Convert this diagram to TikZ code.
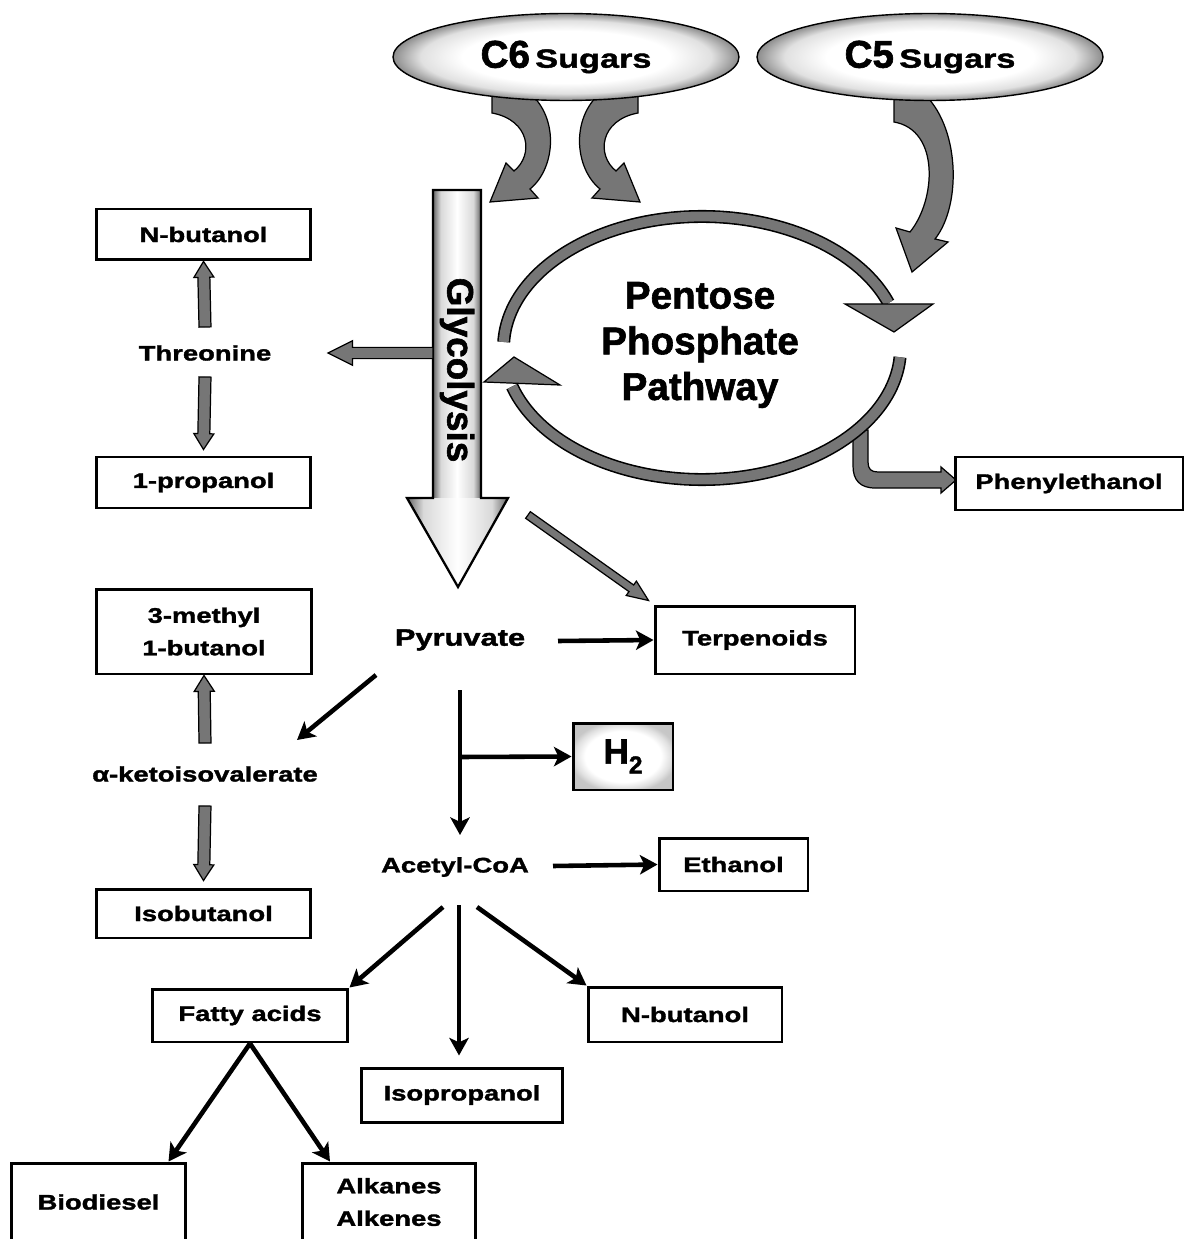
\documentclass[tikz,border=0pt]{standalone}
\usepackage{fontspec}
\setmainfont{Liberation Sans}
\newfontfamily\wfont[FakeStretch=1.3,FakeBold=1.6]{Liberation Sans}
\newfontfamily\hfont[FakeBold=1.6]{Liberation Sans}
\usetikzlibrary{arrows.meta,calc,shapes.geometric}
\definecolor{arrowgray}{RGB}{118,118,118}
\pgfdeclareradialshading{ellshade}{\pgfpoint{0bp}{0bp}}{color(0bp)=(white); color(15bp)=(white); color(21bp)=(black!12); color(25bp)=(black!45); color(50bp)=(black!45)}
\pgfdeclareradialshading{hshade}{\pgfpoint{0bp}{0bp}}{color(0bp)=(white); color(19bp)=(white); color(24bp)=(black!12); color(27bp)=(black!22); color(50bp)=(black!25)}
\pgfdeclarehorizontalshading{glyshade}{100bp}{color(0bp)=(black!60); color(25bp)=(black!60); color(33bp)=(black!15); color(50bp)=(white); color(67bp)=(black!15); color(75bp)=(black!60); color(100bp)=(black!60)}
\newcommand\blockarrow[5]{%
  \filldraw[garrow] let \p1=(#1), \p2=(#2),
    \n1={veclen(\x2-\x1,\y2-\y1)}, \n2={(\x2-\x1)/\n1}, \n3={(\y2-\y1)/\n1} in
    ({\x1-(\n3)*#3},{\y1+(\n2)*#3}) --
    ({\x2-(\n2)*#5-(\n3)*#3},{\y2-(\n3)*#5+(\n2)*#3}) --
    ({\x2-(\n2)*#5-(\n3)*#4},{\y2-(\n3)*#5+(\n2)*#4}) --
    (\p2) --
    ({\x2-(\n2)*#5+(\n3)*#4},{\y2-(\n3)*#5-(\n2)*#4}) --
    ({\x2-(\n2)*#5+(\n3)*#3},{\y2-(\n3)*#5-(\n2)*#3}) --
    ({\x1+(\n3)*#3},{\y1-(\n2)*#3}) -- cycle;}
\begin{document}
\begin{tikzpicture}[x=0.02cm,y=-0.02cm,
  box/.style={draw, line width=1.7pt, fill=white, inner sep=0pt, align=center, font=\wfont\bfseries\fontsize{12}{18.5}\selectfont},
  lbl/.style={inner sep=0pt, font=\wfont\bfseries\fontsize{12}{14}\selectfont},
  blk/.style={line width=2.6pt, -{Stealth[length=10pt,width=11pt,inset=2.5pt]}},
  garrow/.style={fill=arrowgray, draw=black, line width=0.7pt, line join=miter},
  band/.style={line width=7.4pt, draw=black},
  bandin/.style={line width=5.6pt, draw=arrowgray},
  ghead/.style={fill=arrowgray, draw=black, line width=0.7pt, line join=miter}]
\useasboundingbox (0,0) rectangle (1186,1239);
\clip (0,0) rectangle (1186,1239);

% curved arrows from the sugars
\filldraw[garrow] (492,90) -- (526,90) .. controls (560,115) and (556,168) .. (530,189) -- (538,198) -- (490,202) -- (506,163) -- (514,171) .. controls (534,155) and (530,120) .. (492,113) -- cycle;
\filldraw[garrow] (638,90) -- (604,90) .. controls (570,115) and (574,168) .. (600,189) -- (592,198) -- (640,202) -- (624,163) -- (616,171) .. controls (596,155) and (600,120) .. (638,113) -- cycle;
\filldraw[garrow] (894,92) -- (922,92) .. controls (960,125) and (962,205) .. (935,239) -- (948,242) -- (912,272) -- (896,228) -- (910,232) .. controls (936,200) and (940,130) .. (894,122) -- cycle;

% sugars
\node[ellipse, draw, line width=0.8pt, shade, shading=ellshade, minimum width=6.92cm, minimum height=1.74cm, inner sep=0pt] (c6) at (566,57)
  {{\hfont\bfseries\fontsize{22}{24}\selectfont C6}\hspace{3pt}{\wfont\bfseries\fontsize{15}{18}\selectfont Sugars}};
\node[ellipse, draw, line width=0.8pt, shade, shading=ellshade, minimum width=6.92cm, minimum height=1.74cm, inner sep=0pt] (c5) at (930,57)
  {{\hfont\bfseries\fontsize{22}{24}\selectfont C5}\hspace{3pt}{\wfont\bfseries\fontsize{15}{18}\selectfont Sugars}};

% glycolysis arrow
\shade[shading=glyshade] (433,190) rectangle (481,498);
\shade[shading=glyshade] (407,498) -- (508,498) -- (458,587) -- cycle;
\draw[line width=1.3pt, line join=miter] (433,190) -- (481,190) -- (481,498) -- (508,498) -- (458,587) -- (407,498) -- (433,498) -- cycle;
\node[rotate=-90, inner sep=0pt, font=\hfont\bfseries\fontsize{21}{24}\selectfont] (glyc) at (457,370) {Glycolysis};
\coordinate (glyL) at (433,353);
\coordinate (glyR) at (528,515);

% phenylethanol bent arrow
\filldraw[garrow] (853,430) -- (853,466) .. controls (853,480) and (860,488) .. (875,488) -- (941,488) -- (941,493) -- (956,480) -- (941,467) -- (941,472) -- (878,472) .. controls (871,472) and (868,469) .. (868,462) -- (868,430) -- cycle;

% pentose phosphate cycle
\draw[band] (503.7,342) arc[start angle=182.6, end angle=340, x radius=198.5, y radius=131.5];
\draw[bandin] (503.7,342) arc[start angle=182.6, end angle=340, x radius=198.5, y radius=131.5];
\draw[band] (900,357.2) arc[start angle=4, end angle=163, x radius=198.5, y radius=131.5];
\draw[bandin] (900,357.2) arc[start angle=4, end angle=163, x radius=198.5, y radius=131.5];
\filldraw[ghead] (845,304) -- (933,304) -- (894,332) -- cycle;
\filldraw[ghead] (484,382) -- (560,385) -- (514,357) -- cycle;
\node[inner sep=0pt, align=center, font=\hfont\bfseries\fontsize{22}{26}\selectfont] (ppp) at (700,345) {Pentose\\Phosphate\\Pathway};

% boxes
\node[box, minimum width=4.30cm, minimum height=1.02cm] (nb1) at (203.5,234.5) {N-butanol};
\node[box, minimum width=4.30cm, minimum height=1.02cm] (prop) at (203.5,482.5) {1-propanol};
\node[box, minimum width=4.32cm, minimum height=1.70cm] (meth) at (204,631.5) {3-methyl\\1-butanol};
\node[box, minimum width=4.30cm, minimum height=0.98cm] (isob) at (203.5,913.5) {Isobutanol};
\node[box, minimum width=4.56cm, minimum height=1.06cm] (phen) at (1069,483.5) {Phenylethanol};
\node[box, minimum width=4.00cm, minimum height=1.36cm] (terp) at (755,640) {Terpenoids};
\node[draw, line width=1.7pt, shade, shading=hshade, minimum width=2.00cm, minimum height=1.34cm, inner sep=0pt, font=\hfont\bfseries\fontsize{20}{24}\selectfont] (h2) at (623,756.5) {H\raisebox{-0.28em}{\fontsize{14}{14}\selectfont 2}};
\node[box, minimum width=2.98cm, minimum height=1.06cm] (eth) at (733.5,864.5) {Ethanol};
\node[box, minimum width=3.92cm, minimum height=1.06cm] (fatty) at (250,1015.5) {Fatty acids};
\node[box, minimum width=3.88cm, minimum height=1.10cm] (nb2) at (685,1014.5) {N-butanol};
\node[box, minimum width=4.04cm, minimum height=1.08cm] (isop) at (462,1095) {Isopropanol};
\node[box, minimum width=3.50cm, minimum height=1.56cm] (bio) at (98.5,1202) {Biodiesel};
\node[box, minimum width=3.48cm, minimum height=1.56cm] (alk) at (389,1202) {Alkanes\\Alkenes};

% plain labels
\node[lbl] (thr) at (205,353) {Threonine};
\node[lbl] (keto) at (205,774) {α-ketoisovalerate};
\node[lbl, font=\wfont\bfseries\fontsize{13.5}{15}\selectfont] (pyr) at (460,640) {Pyruvate};
\node[lbl] (acoa) at (455,867) {Acetyl-CoA};

% grey block arrows
\blockarrow{$(thr)+(0,-26)$}{nb1.south}{3.4pt}{5.7pt}{9pt}
\blockarrow{$(thr)+(0,24)$}{$(prop.north)+(0,-6)$}{3.4pt}{5.7pt}{9pt}
\blockarrow{glyL}{$(thr)+(123,0)$}{3.2pt}{7pt}{14pt}
\blockarrow{$(keto)+(0,-31)$}{meth.south}{3.4pt}{5.7pt}{9pt}
\blockarrow{$(keto)+(0,32)$}{$(isob.north)+(0,-7)$}{3.4pt}{5.7pt}{9pt}
\blockarrow{glyR}{$(terp.north west)+(-5,-4)$}{2.3pt}{5pt}{12pt}

% black arrows
\draw[blk] ($(pyr)+(98,1)$) -- (terp.west);
\draw[blk] ($(pyr)+(-84,35)$) -- ($(keto)+(92,-34)$);
\draw[blk] ($(pyr)+(0,50)$) -- ($(acoa)+(5,-32)$);
\coordinate (br) at ($(pyr)+(0,117)$);
\draw[blk] (br) -- (h2.west);
\draw[blk] ($(acoa)+(98,-1)$) -- (eth.west);
\draw[blk] ($(acoa)+(-12,40)$) -- (fatty.north east);
\draw[blk] ($(acoa)+(4,38)$) -- ($(isop.north)+(-3,-11)$);
\draw[blk] ($(acoa)+(22,40)$) -- (nb2.north west);
\draw[blk] (fatty.south) -- ($(bio.north)+(70,0)$);
\draw[blk] (fatty.south) -- ($(alk.north)+(-59,0)$);
\end{tikzpicture}
\end{document}
